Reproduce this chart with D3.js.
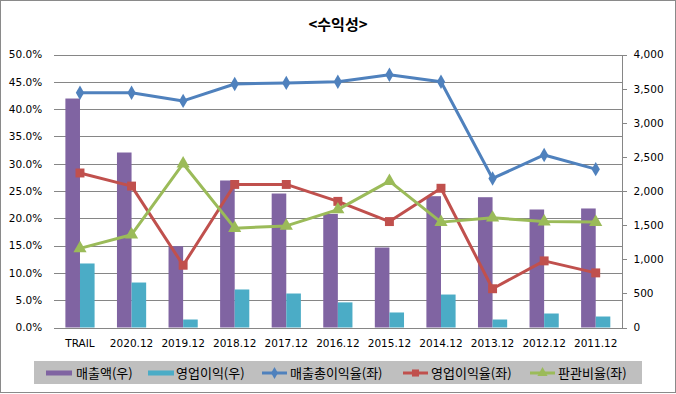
<!DOCTYPE html>
<html><head><meta charset="utf-8">
<script src="https://cdn.jsdelivr.net/npm/d3@7"></script>
<style>
html,body{margin:0;padding:0;background:#fff;}
svg{display:block;}
text{font-family:"DejaVu Sans",Verdana,sans-serif;}
.kr{font-family:"Noto Sans CJK KR","Noto Sans",sans-serif;}
</style></head>
<body>
<svg id="chart" width="676" height="394"></svg>
<script>
const categories = ["TRAIL","2020.12","2019.12","2018.12","2017.12","2016.12","2015.12","2014.12","2013.12","2012.12","2011.12"];
const sales = [3355,2564,1191,2154,1963,1665,1172,1924,1909,1729,1744];          // 매출액(우)
const opProfit = [938,659,117,557,498,368,220,483,117,205,161];                  // 영업이익(우)
const grossMargin = [43.0,43.0,41.5,44.6,44.8,45.0,46.3,45.0,27.3,31.6,29.0];    // 매출총이익율(좌) %
const opMargin = [28.3,25.9,11.4,26.2,26.2,23.1,19.4,25.5,7.1,12.2,10.0];        // 영업이익율(좌) %
const sgaRatio = [14.5,17.0,30.0,18.2,18.6,21.6,26.8,19.3,20.1,19.4,19.3];       // 판관비율(좌) %
const leftTicks = [0,5,10,15,20,25,30,35,40,45,50];
const rightTicks = [0,500,1000,1500,2000,2500,3000,3500,4000];
const legendLabels = ["매출액(우)","영업이익(우)","매출총이익율(좌)","영업이익율(좌)","판관비율(좌)"];
const title = "<수익성>";

const C = {purple:"#8064A2", cyan:"#4BACC6", blue:"#4F81BD", red:"#C0504D", green:"#9BBB59", grid:"#868686"};
const svg = d3.select("#chart");
const L = 54.2, R = 621.5, T = 54.5, B = 327.5;

svg.append("rect").attr("x",0.5).attr("y",0.5).attr("width",675).attr("height",392)
  .attr("fill","#fff").attr("stroke","#8a8a8a").attr("stroke-width",1);

svg.append("text").attr("class","kr").attr("x",338).attr("y",30).attr("text-anchor","middle")
  .attr("font-size",15).attr("font-weight","bold").attr("fill","#000").text(title);

const x = d3.scaleBand().domain(categories).range([L,R]).padding(0);
const yL = d3.scaleLinear().domain([0,50]).range([B,T]);
const yR = d3.scaleLinear().domain([0,4000]).range([B,T]);

// gridlines + left labels
const gl = svg.append("g").attr("transform",`translate(${L},0)`)
  .call(d3.axisLeft(yL).tickValues(leftTicks).tickSize(-(R-L)).tickPadding(12).tickFormat(d=>d.toFixed(1)+"%"));
gl.select(".domain").remove();
gl.selectAll(".tick line").attr("stroke",C.grid).attr("shape-rendering","crispEdges");
gl.selectAll(".tick text").attr("font-size",10.5).attr("fill","#000").attr("font-family","DejaVu Sans");

// right axis
const gr = svg.append("g").attr("transform",`translate(${R},0)`)
  .call(d3.axisRight(yR).tickValues(rightTicks).tickSize(5).tickPadding(7).tickFormat(d3.format(",")));
gr.select(".domain").attr("stroke",C.grid).attr("shape-rendering","crispEdges");
gr.selectAll(".tick line").attr("stroke",C.grid).attr("shape-rendering","crispEdges");
gr.selectAll(".tick text").attr("font-size",10.5).attr("fill","#000").attr("font-family","DejaVu Sans");

// bottom labels
const gb = svg.append("g").attr("transform",`translate(0,${B})`)
  .call(d3.axisBottom(x).tickSize(0).tickPadding(12));
gb.select(".domain").remove();
gb.selectAll(".tick text").attr("font-size",10.5).attr("fill","#000").attr("font-family","DejaVu Sans");

// bars
const bw = 14.6;
svg.append("g").selectAll("rect").data(sales).join("rect")
  .attr("x",(d,i)=>x(categories[i])+x.bandwidth()/2-bw).attr("width",bw)
  .attr("y",d=>yR(d)).attr("height",d=>B-yR(d)).attr("fill",C.purple);
svg.append("g").selectAll("rect").data(opProfit).join("rect")
  .attr("x",(d,i)=>x(categories[i])+x.bandwidth()/2).attr("width",bw)
  .attr("y",d=>yR(d)).attr("height",d=>B-yR(d)).attr("fill",C.cyan);

const cx = i => x(categories[i])+x.bandwidth()/2;
const line = d3.line().x((d,i)=>cx(i)).y(d=>yL(d));

const series = [
  {data:grossMargin, color:C.blue, sym:d3.symbolDiamond, size:60},
  {data:opMargin, color:C.red, sym:d3.symbolSquare, size:80},
  {data:sgaRatio, color:C.green, sym:d3.symbolTriangle, size:75}
];
series.forEach(s=>{
  svg.append("path").datum(s.data).attr("d",line).attr("fill","none")
    .attr("stroke",s.color).attr("stroke-width",3).attr("stroke-linejoin","round");
  svg.append("g").selectAll("path").data(s.data).join("path")
    .attr("transform",(d,i)=>`translate(${cx(i)},${yL(d)})`)
    .attr("d",d3.symbol().type(s.sym).size(s.size)).attr("fill",s.color);
});

// legend
const lg = svg.append("g");
lg.append("rect").attr("x",34).attr("y",361).attr("width",608).attr("height",23).attr("fill","#bfbfbf");
const items = [
  {x:46, tx:76, color:C.purple, type:"bar"},
  {x:148, tx:176, color:C.cyan, type:"bar"},
  {x:262, tx:290, color:C.blue, type:"line", sym:d3.symbolDiamond, size:40},
  {x:403, tx:431, color:C.red, type:"line", sym:d3.symbolSquare, size:50},
  {x:530, tx:558, color:C.green, type:"line", sym:d3.symbolTriangle, size:45}
];
items.forEach((it,i)=>{
  if(it.type==="bar"){
    lg.append("rect").attr("x",it.x).attr("y",370.5).attr("width",26).attr("height",5).attr("fill",it.color);
  } else {
    lg.append("line").attr("x1",it.x).attr("x2",it.x+25).attr("y1",373).attr("y2",373)
      .attr("stroke",it.color).attr("stroke-width",3);
    lg.append("path").attr("transform",`translate(${it.x+12.5},373)`)
      .attr("d",d3.symbol().type(it.sym).size(it.size)).attr("fill",it.color);
  }
  lg.append("text").attr("class","kr").attr("x",it.tx).attr("y",373).attr("dy","0.36em")
    .attr("font-size",13).attr("fill","#000").text(legendLabels[i]);
});
</script>
</body></html>
